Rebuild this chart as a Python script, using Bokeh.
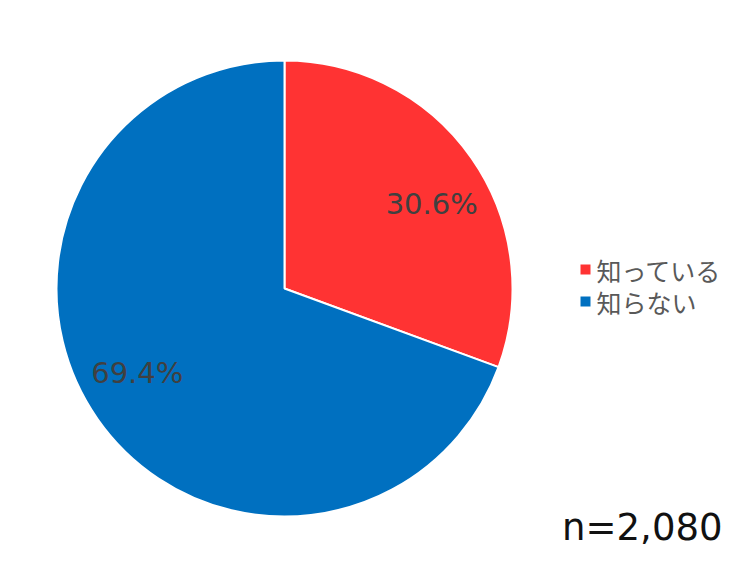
import numpy as np
from bokeh.plotting import figure
from bokeh.models import Range1d, ColumnDataSource
from bokeh.core.properties import value
from bokeh.embed import file_html
from bokeh.resources import INLINE

categories = ["知っている", "知らない"]
shares = [30.6, 69.4]
colors = ["#FF3333", "#0070C0"]
sample_note = "n=2,080"

W, H = 724, 560
p = figure(width=W, height=H, output_backend="svg", toolbar_location=None,
           x_range=Range1d(0, W), y_range=Range1d(0, H), min_border=0)
p.axis.visible = False
p.grid.visible = False
p.outline_line_color = None
p.background_fill_color = "white"

cx, cy, R = 284, 272, 228
frac = np.array(shares) / sum(shares)
ends = np.pi / 2 - np.concatenate([[0], np.cumsum(frac)[:-1]]) * 2 * np.pi
starts = ends - frac * 2 * np.pi
mid = (starts + ends) / 2 - np.deg2rad(5)
lr = 0.745 * R
src = ColumnDataSource(dict(
    start=starts, end=ends, color=colors,
    lx=cx + lr * np.cos(mid), ly=cy + lr * np.sin(mid),
    label=[f"{s:.1f}%" for s in shares],
))
p.wedge(x=cx, y=cy, radius=R, start_angle="start", end_angle="end",
        fill_color="color", line_color="white", line_width=2, source=src)
p.text(x="lx", y="ly", text="label", source=src, text_align="center",
       text_baseline="middle", text_font=value("DejaVu Sans"),
       text_font_size="29px", text_color="#404040")

# legend
ly0, step = 291, 32
leg = ColumnDataSource(dict(
    y=[ly0 - i * step for i in range(len(categories))],
    color=colors, label=categories))
p.scatter(x=585, y="y", marker="square", size=10, fill_color="color",
          line_color=None, source=leg)
p.text(x=596, y="y", text="label", source=leg, text_baseline="middle",
       text_font=value("Noto Sans CJK JP"), text_font_size="25px",
       text_color="#595959")

p.text(x=[722], y=[33], text=[sample_note], text_align="right",
       text_baseline="middle", text_font=value("DejaVu Sans"),
       text_font_size="37px", text_color="#111111")

open("out.html", "w").write(file_html(p, INLINE))
